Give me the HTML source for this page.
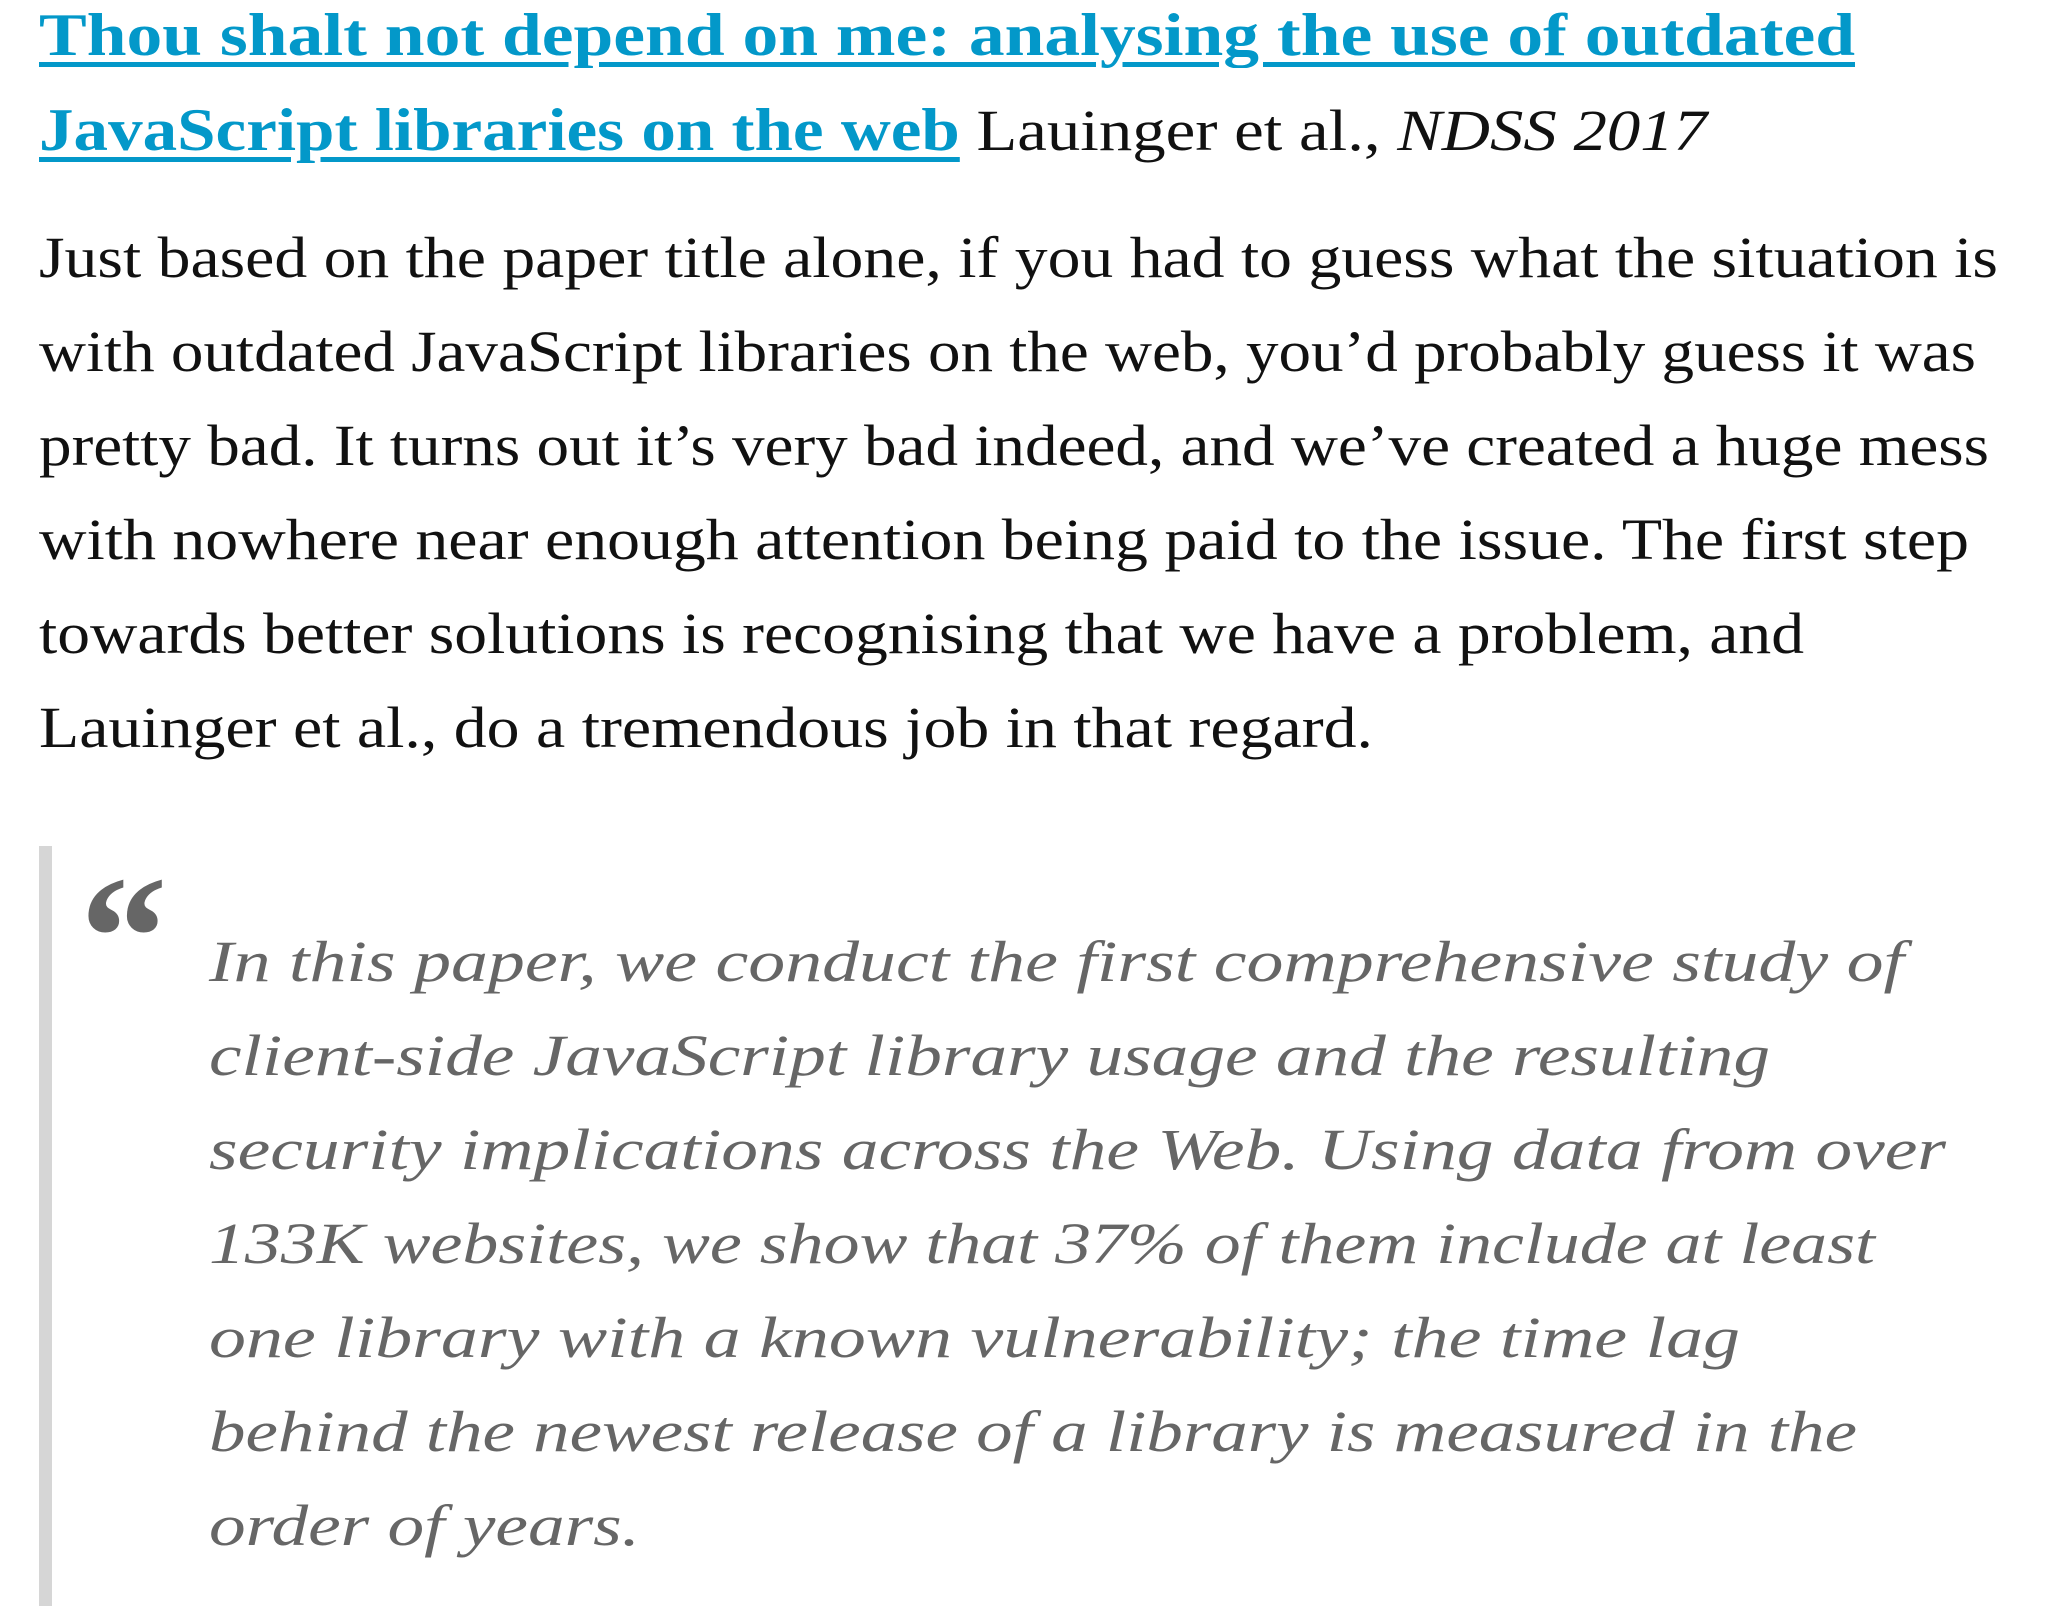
<!DOCTYPE html>
<html><head><meta charset="utf-8"><style>
html,body{margin:0;padding:0;background:#fff;width:2048px;height:1592px;overflow:hidden}
.l{position:absolute;left:39px;white-space:nowrap;font-family:"Liberation Serif",serif;line-height:94px;height:94px;transform-origin:0 0}
.t{font-size:60px;font-weight:bold;color:#0398c9;}
.t a{color:#0398c9;text-decoration:underline;text-decoration-thickness:5px;text-underline-offset:7px}
.b{font-size:58px;color:#111}
.q{font-size:58px;font-style:italic;color:#666;left:209px}
</style></head><body>
<div class="l t" style="top:-12px" data-w="1816"><a>Thou shalt not depend on me: analysing the use of outdated</a></div>
<div class="l t" style="top:83px" data-w="1668"><a>JavaScript libraries on the web</a><span style="font-weight:normal;color:#111;font-size:58px"> Lauinger et al., <i>NDSS 2017</i></span></div>
<div class="l b" style="top:211px" data-w="1959">Just based on the paper title alone, if you had to guess what the situation is</div>
<div class="l b" style="top:305px" data-w="1937">with outdated JavaScript libraries on the web, you’d probably guess it was</div>
<div class="l b" style="top:399px" data-w="1950">pretty bad. It turns out it’s very bad indeed, and we’ve created a huge mess</div>
<div class="l b" style="top:493px" data-w="1930">with nowhere near enough attention being paid to the issue. The first step</div>
<div class="l b" style="top:587px" data-w="1765">towards better solutions is recognising that we have a problem, and</div>
<div class="l b" style="top:681px" data-w="1334">Lauinger et al., do a tremendous job in that regard.</div>
<div style="position:absolute;left:39px;top:846px;width:13px;height:760px;background:#d6d6d6"></div>
<div style="position:absolute;left:80px;top:850px;font-family:'Liberation Serif',serif;font-weight:bold;font-size:175px;line-height:175px;color:#666">“</div>
<div class="l q" style="top:915px" data-w="1695">In this paper, we conduct the first comprehensive study of</div>
<div class="l q" style="top:1009px" data-w="1561">client-side JavaScript library usage and the resulting</div>
<div class="l q" style="top:1103px" data-w="1737">security implications across the Web. Using data from over</div>
<div class="l q" style="top:1197px" data-w="1666">133K websites, we show that 37% of them include at least</div>
<div class="l q" style="top:1291px" data-w="1531">one library with a known vulnerability; the time lag</div>
<div class="l q" style="top:1385px" data-w="1648">behind the newest release of a library is measured in the</div>
<div class="l q" style="top:1479px" data-w="431">order of years.</div>
<script>
document.querySelectorAll('[data-w]').forEach(function(el){
  var target=+el.getAttribute('data-w');
  var r=document.createRange();r.selectNodeContents(el);
  var w=r.getBoundingClientRect().width;
  if(w>0) el.style.transform='scaleX('+(target/w)+')';
});
</script>
</body></html>
